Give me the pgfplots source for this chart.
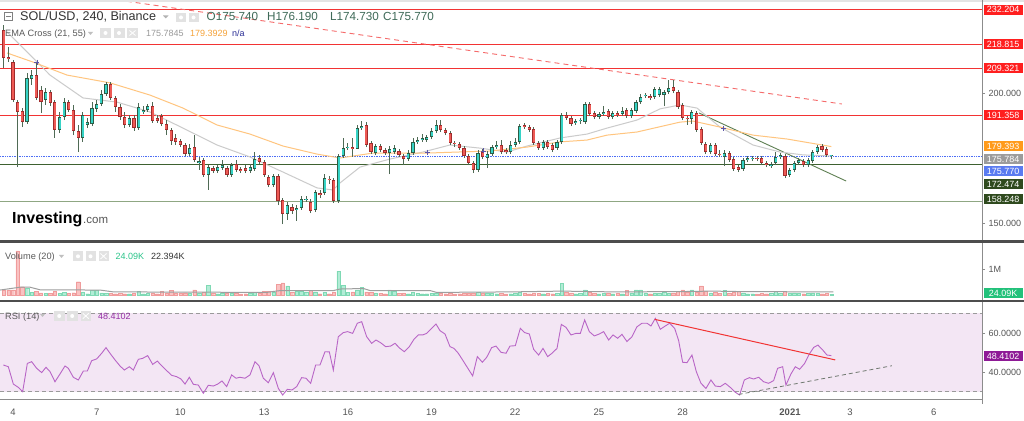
\documentclass[border=0pt]{standalone}
\usepackage{fontspec}
\setmainfont{Liberation Sans}
\usepackage{pgfplots}
\usepackage{pgfplotstable}
\pgfplotsset{compat=1.18}

\definecolor{upfill}{HTML}{36D3C6}
\definecolor{upedge}{HTML}{2E5C45}
\definecolor{dnfill}{HTML}{EE5A55}
\definecolor{dnedge}{HTML}{A02C2C}
\definecolor{wick}{HTML}{4F6A55}
\definecolor{lred}{HTML}{F23333}
\definecolor{tred}{HTML}{F56B6B}
\definecolor{lgreen}{HTML}{3E6130}
\definecolor{lgreen2}{HTML}{8FA783}
\definecolor{tgreen}{HTML}{5E7F52}
\definecolor{lblue}{HTML}{4C6EF5}
\definecolor{ema21}{HTML}{CBCBCB}
\definecolor{ema55}{HTML}{FFC57F}
\definecolor{crossc}{HTML}{5D55A8}
\definecolor{boxred}{HTML}{FF1F1F}
\definecolor{boxorange}{HTML}{FF9A1A}
\definecolor{boxgray}{HTML}{9C9C9C}
\definecolor{boxblue}{HTML}{5A7BF0}
\definecolor{boxgreen}{HTML}{2F4A1E}
\definecolor{boxvol}{HTML}{22C17A}
\definecolor{boxrsi}{HTML}{8E1A96}
\definecolor{axgray}{HTML}{8C8C8C}
\definecolor{labgray}{HTML}{555555}
\definecolor{sepgray}{HTML}{4D4D4D}
\definecolor{topgray}{HTML}{E4E4E4}
\definecolor{rsiline}{HTML}{B865C6}
\definecolor{rsiband}{HTML}{F3E6F4}
\definecolor{rsidash}{HTML}{9A9A9A}
\definecolor{rsigray}{HTML}{6E776E}
\definecolor{volup}{HTML}{B2ECD6}
\definecolor{volupedge}{HTML}{7FD9B4}
\definecolor{voldn}{HTML}{F9C2C2}
\definecolor{voldnedge}{HTML}{F09C9C}
\definecolor{volma}{HTML}{9E9E9E}
\definecolor{icongray}{HTML}{E2E2E2}
\definecolor{ohlc}{HTML}{3F6A58}
\definecolor{hdr}{HTML}{333333}
\definecolor{sub}{HTML}{5A5A5A}
\definecolor{emaval}{HTML}{9A9A9A}
\definecolor{emaor}{HTML}{F5A33A}
\definecolor{navy}{HTML}{2B2F96}
\definecolor{volgreen}{HTML}{2BC48A}
\definecolor{rsitext}{HTML}{9630A6}

\pgfplotstableread{
i o h l c v
0 224.2 226.2 209.6 213.5 0.19
1 213.8 217.7 211.9 213.1 0.20
2 211.9 212.7 196.5 197.3 0.20
3 196.5 197.3 171.5 192.7 1.70
4 193.1 194.2 186.9 188.8 0.32
5 188.8 207.7 188.1 205.8 0.26
6 205.4 208.8 203.1 206.9 0.10
7 206.9 211.9 197.3 198.1 0.13
8 201.2 202.7 192.3 196.5 0.08
9 197.3 201.9 195.4 200.4 0.06
10 200.4 201.2 195.0 196.2 0.07
11 196.5 197.3 182.7 185.8 0.13
12 185.8 192.7 184.6 190.8 0.06
13 190.8 198.1 189.6 196.5 0.10
14 196.5 197.3 192.7 193.5 0.06
15 193.5 195.4 183.8 185.4 0.09
16 185.4 187.7 177.3 182.7 0.51
17 182.7 192.7 181.2 191.5 0.12
18 187.7 190.4 186.5 188.8 0.05
19 188.1 196.5 187.3 194.2 0.19
20 193.9 197.3 192.7 195.8 0.19
21 195.8 201.2 195.0 199.6 0.08
22 199.6 204.2 198.9 203.5 0.06
23 203.5 204.2 197.3 198.1 0.07
24 198.1 198.9 192.7 194.6 0.05
25 194.6 195.8 189.6 190.8 0.06
26 190.8 192.7 186.5 187.7 0.05
27 187.7 191.5 186.9 190.4 0.05
28 190.4 191.5 185.4 186.5 0.06
29 186.5 196.2 185.8 194.6 0.13
30 192.7 195.0 191.9 193.5 0.05
31 193.5 195.8 192.7 195.0 0.06
32 195.0 196.5 188.5 189.2 0.08
33 190.4 191.5 188.5 189.2 0.05
34 191.2 191.9 187.3 188.1 0.13
35 188.1 189.6 183.8 185.8 0.07
36 185.8 186.5 180.0 181.5 0.19
37 182.7 184.2 180.0 181.2 0.06
38 181.5 182.3 179.2 180.0 0.06
39 180.0 180.8 175.8 176.5 0.09
40 176.5 180.4 175.8 178.8 0.08
41 179.2 183.8 173.5 174.2 0.20
42 173.1 175.4 170.4 173.8 0.07
43 174.2 175.0 167.7 168.5 0.10
44 168.5 172.3 162.7 171.5 0.38
45 171.2 171.9 169.2 170.0 0.06
46 170.0 172.3 169.2 171.5 0.05
47 171.2 174.2 170.4 172.3 0.06
48 171.2 171.9 167.7 168.5 0.07
49 168.5 173.1 167.7 172.3 0.08
50 172.7 174.2 169.6 170.4 0.06
51 170.8 171.5 169.2 170.0 0.04
52 171.2 172.3 169.2 170.0 0.05
53 170.0 172.7 169.2 171.5 0.06
54 170.8 177.3 170.0 174.6 0.10
55 175.0 176.2 172.7 173.5 0.07
56 173.5 174.2 167.7 168.5 0.15
57 167.7 168.5 163.8 164.6 0.15
58 164.6 168.8 163.8 168.1 0.10
59 168.1 168.8 156.9 158.5 0.41
60 158.9 159.6 149.6 153.5 0.47
61 153.5 158.1 151.2 156.9 0.35
62 156.2 157.3 153.5 154.6 0.10
63 155.0 156.9 150.8 155.8 0.15
64 155.8 160.4 155.0 159.2 0.15
65 158.9 160.4 158.1 159.2 0.10
66 158.1 159.2 153.8 154.6 0.19
67 155.0 162.7 154.2 161.9 0.12
68 161.5 162.7 159.6 160.8 0.05
69 161.5 168.8 160.8 167.3 0.10
70 166.9 168.1 165.0 166.5 0.05
71 166.5 167.3 157.7 158.5 0.12
72 158.5 176.5 157.7 175.8 0.92
73 175.8 182.7 175.0 178.8 0.38
74 178.8 180.8 178.1 179.2 0.10
75 179.2 182.7 175.4 178.5 0.12
76 178.5 187.7 178.5 186.5 0.20
77 186.5 189.2 185.8 187.3 0.30
78 187.7 188.8 179.2 180.0 0.12
79 180.8 181.5 176.5 177.3 0.10
80 176.9 180.4 176.2 179.6 0.08
81 179.6 180.4 177.3 178.1 0.06
82 178.1 178.8 176.2 176.9 0.05
83 176.9 179.6 168.8 178.5 0.20
84 177.3 180.0 176.5 178.8 0.15
85 177.7 178.5 175.4 176.2 0.06
86 175.8 176.5 172.3 174.6 0.08
87 174.6 178.1 173.8 176.9 0.05
88 176.9 182.7 176.2 181.2 0.10
89 181.2 183.1 180.4 181.9 0.06
90 181.9 184.2 181.2 182.7 0.05
91 181.9 183.8 181.2 183.1 0.05
92 183.1 186.5 182.3 185.4 0.06
93 185.4 189.6 184.6 187.7 0.08
94 187.7 189.6 185.0 185.8 0.06
95 185.8 186.5 183.8 184.6 0.05
96 184.6 185.4 180.0 180.8 0.07
97 180.8 181.5 179.2 180.4 0.04
98 180.4 181.2 178.1 178.8 0.05
99 178.8 179.6 175.0 175.8 0.06
100 175.8 176.5 172.3 173.1 0.07
101 173.1 173.8 169.2 170.4 0.08
102 170.4 178.1 169.6 176.9 0.10
103 177.3 178.5 174.6 175.4 0.06
104 175.0 177.7 171.2 176.5 0.08
105 176.5 180.0 175.8 179.2 0.06
106 179.2 181.5 178.5 180.0 0.05
107 180.0 181.9 176.5 177.3 0.06
108 178.1 178.8 176.5 177.3 0.04
109 177.3 181.5 176.5 180.0 0.05
110 180.0 182.7 179.2 181.2 0.06
111 181.2 188.1 180.4 187.3 0.10
112 187.7 188.5 186.2 186.9 0.06
113 186.9 187.7 185.0 185.8 0.05
114 186.2 186.9 180.0 180.8 0.08
115 180.8 181.5 178.1 178.8 0.06
116 178.8 181.9 178.1 181.2 0.05
117 181.2 181.9 178.5 179.2 0.06
118 180.0 180.8 177.3 178.1 0.05
119 178.8 181.9 178.1 181.2 0.06
120 181.2 192.3 180.4 191.5 0.46
121 191.5 192.7 189.6 190.4 0.10
122 190.4 191.2 187.3 188.1 0.08
123 188.5 190.0 187.7 189.2 0.05
124 189.2 190.4 188.1 189.6 0.06
125 188.8 196.5 188.1 195.8 0.20
126 195.8 196.5 191.2 191.9 0.10
127 192.3 193.1 190.0 190.8 0.06
128 190.8 192.7 190.0 191.9 0.05
129 191.9 195.0 191.2 192.7 0.06
130 193.1 193.9 190.0 190.8 0.08
131 190.8 193.1 190.0 192.3 0.05
132 192.3 193.1 190.8 191.5 0.06
133 191.9 194.6 191.2 193.1 0.05
134 193.5 194.2 190.4 191.2 0.19
135 191.2 194.2 190.4 193.5 0.08
136 193.1 197.3 192.3 196.5 0.20
137 196.5 199.6 195.8 198.5 0.20
138 198.9 200.0 198.1 199.2 0.06
139 198.9 199.6 197.3 198.1 0.05
140 198.5 202.3 197.7 201.5 0.08
141 199.2 202.3 198.5 201.5 0.06
142 199.2 201.2 195.0 200.4 0.10
143 200.4 205.0 199.6 201.9 0.07
144 202.3 205.0 200.0 200.8 0.08
145 200.4 201.2 193.9 194.6 0.13
146 195.4 196.2 189.6 190.4 0.20
147 190.4 191.2 187.7 190.0 0.12
148 190.0 193.5 188.1 192.7 0.20
149 192.3 193.1 185.0 185.8 0.12
150 186.2 186.9 180.0 180.8 0.35
151 180.4 181.2 176.5 177.3 0.15
152 177.3 180.8 176.5 180.0 0.08
153 180.0 180.8 175.8 176.5 0.10
154 176.5 178.1 175.4 176.2 0.06
155 175.4 178.1 171.9 176.9 0.17
156 176.9 177.7 173.5 174.2 0.08
157 174.6 175.4 170.0 170.8 0.10
158 171.5 172.3 169.6 170.4 0.13
159 170.8 175.0 170.0 174.2 0.08
160 174.2 175.8 173.5 175.0 0.05
161 174.6 175.8 173.8 175.0 0.05
162 175.0 175.8 173.8 174.6 0.04
163 175.0 175.8 172.3 173.1 0.06
164 173.1 173.8 171.5 172.3 0.05
165 171.9 173.5 171.2 172.7 0.06
166 173.1 177.3 172.3 175.4 0.13
167 175.4 176.9 174.6 176.2 0.06
168 175.8 176.5 167.3 168.1 0.13
169 168.5 171.2 167.7 170.4 0.07
170 170.4 173.8 169.6 173.1 0.08
171 173.1 175.0 172.3 174.2 0.06
172 173.8 174.6 171.5 172.3 0.05
173 172.3 175.0 171.5 174.2 0.06
174 173.8 178.1 173.1 177.3 0.08
175 177.3 180.0 176.5 179.2 0.07
176 179.6 180.4 177.3 178.1 0.05
177 178.5 179.2 175.4 176.2 0.06
178 175.74 176.19 174.73 175.77 0.024
}\candles

\pgfplotstableread{
t p
3.785 223.5
4.717 213.5
5.326 206.9
6.509 198.1
7.728 196.5
8.910 192.7
10.093 186.5
11.312 180.0
12.495 175.4
13.677 169.6
14.896 163.5
15.470 162.7
15.720 165.4
16.437 171.5
17.513 174.6
18.695 177.3
19.663 180.0
20.738 178.8
21.706 177.3
22.423 179.6
23.606 182.7
24.573 184.2
25.290 186.5
26.366 189.6
27.190 193.9
27.907 195.4
28.516 194.2
29.341 186.9
30.523 180.0
31.491 177.3
32.315 176.2
33.333 175.78
}\emaA

\pgfplotstableread{
t p
3.785 215.4
4.717 211.9
5.935 206.9
7.477 203.9
8.910 199.2
10.093 194.2
11.312 187.7
12.495 184.2
13.677 179.6
14.896 176.5
15.720 175.0
16.903 176.9
18.839 176.9
21.097 177.7
22.423 179.2
23.606 181.2
24.573 181.9
25.290 183.8
26.366 185.0
27.907 188.8
28.373 189.2
29.341 186.9
30.523 183.8
31.742 182.3
33.333 179.39
}\emaB

\pgfplotstableread{
t v
3.534 0.19
4.25 0.30
4.61 0.30
4.97 0.20
7.12 0.19
7.60 0.12
13.09 0.10
13.57 0.17
15.48 0.17
15.72 0.23
16.56 0.25
16.80 0.17
18.95 0.17
19.18 0.10
21.90 0.12
23.68 0.15
25.50 0.12
27.86 0.13
29.05 0.15
30.20 0.13
33.40 0.12
}\volma

\pgfplotstableread{
t r
3.654 43.6
3.833 42.7
4.012 33.8
4.191 32.1
4.346 29.9
4.514 44.4
4.669 45.3
4.848 41.9
5.027 39.7
5.183 42.4
5.326 40.2
5.505 35.0
5.685 39.0
5.864 43.1
5.983 41.9
6.162 37.3
6.342 35.9
6.521 40.5
6.664 40.5
6.820 45.8
6.999 46.7
7.178 49.6
7.333 52.5
7.477 49.6
7.656 46.2
7.835 43.1
7.990 41.0
8.170 42.7
8.313 41.0
8.492 46.5
8.647 47.0
8.827 48.4
9.006 43.9
9.173 45.6
9.328 43.2
9.508 40.7
9.687 38.3
9.866 37.6
10.021 36.4
10.165 33.8
10.320 37.3
10.463 33.7
10.642 33.3
10.822 29.1
11.001 33.2
11.180 32.8
11.335 33.8
11.491 35.4
11.658 32.5
11.837 38.5
11.993 36.8
12.136 37.3
12.315 36.8
12.494 38.5
12.674 45.3
12.817 43.2
12.972 36.8
13.151 34.5
13.331 39.7
13.510 31.6
13.665 28.2
13.832 31.1
14.000 30.8
14.167 32.5
14.346 37.1
14.501 36.8
14.669 34.2
14.848 43.6
15.003 43.6
15.182 50.4
15.338 50.3
15.481 41.0
15.660 58.1
15.839 60.2
15.995 60.7
16.174 59.8
16.341 65.0
16.497 65.8
16.676 58.1
16.855 54.7
17.010 56.4
17.178 55.0
17.357 53.0
17.536 53.3
17.691 54.7
17.870 52.1
18.026 50.4
18.205 53.0
18.372 56.8
18.528 59.0
18.683 59.0
18.826 59.8
19.005 62.4
19.161 64.6
19.304 61.2
19.483 59.5
19.663 53.0
19.806 52.1
19.961 49.6
20.140 45.6
20.320 41.5
20.475 38.0
20.642 47.9
20.822 45.0
20.977 47.5
21.156 52.5
21.312 53.3
21.491 50.1
21.670 49.6
21.813 53.3
22.004 53.5
22.183 62.4
22.339 60.2
22.506 59.5
22.661 51.6
22.840 48.7
22.996 52.1
23.163 47.9
23.318 49.6
23.498 52.1
23.653 64.4
23.820 62.9
23.999 59.0
24.178 59.8
24.334 59.8
24.489 66.7
24.656 60.7
24.836 58.5
25.015 59.5
25.170 60.7
25.349 56.4
25.505 59.0
25.672 57.3
25.827 59.3
26.006 55.6
26.185 58.1
26.365 63.2
26.544 65.0
26.723 65.0
26.866 63.6
27.022 67.5
27.201 61.9
27.380 63.6
27.535 65.0
27.715 62.4
27.858 56.1
28.001 45.0
28.156 44.8
28.335 48.7
28.491 40.2
28.658 34.2
28.837 31.6
29.016 35.9
29.172 32.8
29.351 32.5
29.530 34.2
29.709 32.1
29.889 29.6
30.044 28.2
30.211 35.9
30.390 37.1
30.546 36.4
30.725 37.3
30.904 35.0
31.083 34.2
31.262 35.6
31.406 41.9
31.585 42.7
31.704 33.3
31.883 39.0
32.039 42.7
32.194 41.4
32.373 44.4
32.542 49.2
32.697 52.6
32.852 53.8
33.020 51.3
33.175 48.7
33.331 48.41
}\rsi

\pgfplotsset{
  panel/.style={scale only axis, width=982pt, xmin=3.534, xmax=38.731, anchor=south west,
    axis line style={draw=none}, tick align=outside, major tick length=3pt,
    tick style={draw=axgray, line width=0.6pt},
    ytick pos=right, yticklabel pos=right,
    yticklabel style={font=\fontsize{9}{10}\selectfont, text=labgray},
    xtick=\empty},
}
\tikzset{lbl/.style={fill=#1, text=white, anchor=west, inner sep=0pt, minimum height=10pt,
  minimum width=39pt, font=\fontsize{9}{10}\selectfont}}

\begin{document}
\begin{tikzpicture}
\useasboundingbox (0pt,0pt) rectangle (1024pt,420pt);
\fill[white] (0pt,0pt) rectangle (1024pt,420pt);

% ---------------- price panel
\begin{axis}[panel, at={(0pt,179.5pt)}, height=237.5pt, ymin=143.27, ymax=234.62,
  ytick={150,200}, yticklabels={150.000,200.000}]
\addplot[lred, line width=0.9pt] coordinates {(3.534,232.204) (38.731,232.204)};
\addplot[lred, line width=0.9pt] coordinates {(3.534,218.815) (38.731,218.815)};
\addplot[lred, line width=0.9pt] coordinates {(3.534,209.321) (38.731,209.321)};
\addplot[lred, line width=0.9pt] coordinates {(3.534,191.358) (38.731,191.358)};
\addplot[lgreen, line width=0.9pt] coordinates {(3.534,172.474) (38.731,172.474)};
\addplot[lgreen2, line width=1.3pt] coordinates {(3.534,158.248) (38.731,158.248)};
\addplot[lblue, line width=0.7pt, densely dotted] coordinates {(3.534,175.770) (38.731,175.770)};
\addplot[tred, line width=0.9pt, dash pattern=on 5pt off 4pt] coordinates {(7.76,235.77) (33.71,195.77)};
\addplot[tgreen, line width=0.9pt] coordinates {(28.59,192.31) (33.86,166.15)};
\addplot[ema21, line width=1pt] table[x=t, y=p]{\emaA};
\addplot[ema55, line width=1pt] table[x=t, y=p]{\emaB};
% wicks
\addplot[wick, line width=0.8pt, mark=none, quiver={u=0, v=\thisrow{h}-\thisrow{l}}]
  table[x expr=3.6667+\thisrow{i}/6, y=l]{\candles};
% up bodies
\addplot[upedge, line width=3.2pt, mark=none, restrict expr to domain={\thisrow{c}-\thisrow{o}}{0:1000},
  quiver={u=0, v={max(\thisrow{c}-\thisrow{o},0.5)}}]
  table[x expr=3.6667+\thisrow{i}/6, y=o]{\candles};
\addplot[upfill, line width=2.0pt, mark=none, restrict expr to domain={\thisrow{c}-\thisrow{o}}{0:1000},
  quiver={u=0, v={max(\thisrow{c}-\thisrow{o}-0.5,0.1)}}]
  table[x expr=3.6667+\thisrow{i}/6, y expr=\thisrow{o}+0.25]{\candles};
% down bodies
\addplot[dnedge, line width=3.2pt, mark=none, restrict expr to domain={\thisrow{c}-\thisrow{o}}{-1000:-0.00001},
  quiver={u=0, v={max(\thisrow{o}-\thisrow{c},0.5)}}]
  table[x expr=3.6667+\thisrow{i}/6, y=c]{\candles};
\addplot[dnfill, line width=2.0pt, mark=none, restrict expr to domain={\thisrow{c}-\thisrow{o}}{-1000:-0.00001},
  quiver={u=0, v={max(\thisrow{o}-\thisrow{c}-0.5,0.1)}}]
  table[x expr=3.6667+\thisrow{i}/6, y expr=\thisrow{c}+0.25]{\candles};
\addplot[only marks, mark=+, mark size=2.5pt, crossc, line width=0.9pt]
  coordinates {(4.86,211.9) (18.84,177.3) (20.85,177.7) (29.48,186.5)};
\end{axis}

% ---------------- volume panel
\begin{axis}[panel, at={(0pt,120pt)}, height=57pt, ymin=-0.192, ymax=2.0,
  ytick={1}, yticklabels={1M}]
\addplot[ybar, bar width=3.4pt, bar shift=0pt, fill=voldn, draw=voldnedge, line width=0.3pt,
  restrict expr to domain={\thisrow{c}-\thisrow{o}}{-1000:-0.00001}]
  table[x expr=3.6667+\thisrow{i}/6, y=v]{\candles};
\addplot[ybar, bar width=3.4pt, bar shift=0pt, fill=volup, draw=volupedge, line width=0.3pt,
  restrict expr to domain={\thisrow{c}-\thisrow{o}}{0:1000}]
  table[x expr=3.6667+\thisrow{i}/6, y=v]{\candles};
\addplot[volma, line width=1pt] table[x=t, y=v]{\volma};
\end{axis}

% ---------------- RSI panel
\begin{axis}[panel, at={(0pt,20.5pt)}, height=97pt, ymin=25.9, ymax=75.64,
  ytick={40,60}, yticklabels={40.0000,60.0000},
  xtick={4,7,10,13,16,19,22,25,28,31.85,34,37},
  xticklabels={4,7,10,13,16,19,22,25,28,\textbf{2021},3,6},
  xtick style={draw=none},
  xticklabel style={font=\fontsize{9.5}{10}\selectfont, text=labgray, yshift=-3pt}]
\fill[rsiband] (axis cs:3.534,30) rectangle (axis cs:38.731,70);
\addplot[rsidash, line width=0.8pt, dash pattern=on 4pt off 3pt] coordinates {(3.534,70) (38.731,70)};
\addplot[rsidash, line width=0.8pt, dash pattern=on 4pt off 3pt] coordinates {(3.534,30) (38.731,30)};
\addplot[rsiline, line width=0.9pt] table[x=t, y=r]{\rsi};
\addplot[lred, line width=1pt] coordinates {(27.0,67.0) (33.47,46.2)};
\addplot[rsigray, line width=0.8pt, dash pattern=on 4pt off 3pt] coordinates {(30.01,28.5) (35.50,43.2)};
\end{axis}

\begin{scope}[x=1pt,y=1pt]
% ---------------- frame lines
\fill[topgray] (0,418) rectangle (1024,420);
\draw[axgray, line width=0.8pt] (982.5,420) -- (982.5,16);
\draw[axgray, line width=0.8pt] (0,20.5) -- (982.5,20.5);
\fill[sepgray] (0,177) rectangle (1024,179.5);
\fill[sepgray] (0,117.5) rectangle (1024,120);

% ---------------- right labels
\node[lbl=boxred] at (983.5,410.4) {232.204};
\node[lbl=boxred] at (983.5,376) {218.815};
\node[lbl=boxred] at (983.5,351.7) {209.321};
\node[lbl=boxred] at (983.5,305) {191.358};
\node[lbl=boxorange] at (983.5,274) {179.393};
\node[lbl=boxgray] at (983.5,261) {175.784};
\node[lbl=boxblue] at (983.5,249) {175.770};
\node[lbl=boxgreen] at (983.5,236) {172.474};
\node[lbl=boxgreen] at (983.5,221) {158.248};
\node[lbl=boxvol] at (983.5,127) {24.09K};
\node[lbl=boxrsi] at (983.5,64) {48.4102};

% ---------------- header line 1
\draw[gray, line width=0.6pt] (4.3,399.3) rectangle (12.3,407.3);
\draw[gray, line width=0.6pt] (6,403.3) -- (10.6,403.3);
\node[anchor=base west, inner sep=0pt, text=hdr, font=\fontsize{12.6}{14}\selectfont] at (20,399) {SOL/USD, 240, Binance};
\fill[gray!60] (163,404.5) -- (168.5,404.5) -- (165.75,401.5) -- cycle;
\fill[icongray] (176,398) rectangle (186,407);
\fill[icongray] (188.5,398) rectangle (198.5,407);
\fill[white] (181,402.5) circle (2);
\fill[white] (193.5,402.5) circle (2);
\node[anchor=base west, inner sep=0pt, text=ohlc, font=\fontsize{11.7}{14}\selectfont] at (206.5,399) {O175.740};
\node[anchor=base west, inner sep=0pt, text=ohlc, font=\fontsize{11.7}{14}\selectfont] at (267,399) {H176.190};
\node[anchor=base west, inner sep=0pt, text=ohlc, font=\fontsize{11.7}{14}\selectfont] at (330,399) {L174.730};
\node[anchor=base west, inner sep=0pt, text=ohlc, font=\fontsize{11.7}{14}\selectfont] at (383,399) {C175.770};

% ---------------- header line 2
\node[anchor=base west, inner sep=0pt, text=sub, font=\fontsize{9.2}{11}\selectfont] at (5,383.8) {EMA Cross (21, 55)};
\fill[gray!50] (88,388) -- (93,388) -- (90.5,385) -- cycle;
\fill[icongray] (100,382) rectangle (111,392);
\fill[icongray] (113.5,382) rectangle (124.5,392);
\fill[icongray] (127,382) rectangle (138,392);
\fill[white] (105.5,387) circle (2);
\fill[white] (119,387) circle (2);
\draw[white, line width=0.8pt] (129.5,384.5) -- (135.5,389.5) (129.5,389.5) -- (135.5,384.5);
\node[anchor=base west, inner sep=0pt, text=emaval, font=\fontsize{9}{11}\selectfont] at (146,383.8) {175.7845};
\node[anchor=base west, inner sep=0pt, text=emaor, font=\fontsize{9}{11}\selectfont] at (190,383.8) {179.3929};
\node[anchor=base west, inner sep=0pt, text=navy, font=\fontsize{9}{11}\selectfont] at (232,383.8) {n/a};

% ---------------- Investing.com
\node[anchor=base west, inner sep=0pt, font=\fontsize{16}{18}\bfseries\selectfont] at (12,196.8) {Investing};
\node[anchor=base west, inner sep=0pt, text=labgray, font=\fontsize{11.5}{13}\selectfont] at (83,196.8) {.com};

% ---------------- volume header
\node[anchor=base west, inner sep=0pt, text=sub, font=\fontsize{9.2}{11}\selectfont] at (5,160.7) {Volume (20)};
\fill[gray!50] (59,165) -- (64,165) -- (61.5,162) -- cycle;
\fill[icongray] (73,159) rectangle (83,168.5);
\fill[icongray] (85.5,159) rectangle (95.5,168.5);
\fill[icongray] (98.5,159) rectangle (108.5,168.5);
\fill[white] (78,163.7) circle (2);
\fill[white] (90.5,163.7) circle (2);
\draw[white, line width=0.8pt] (100.5,161) -- (106.5,166.5) (100.5,166.5) -- (106.5,161);
\node[anchor=base west, inner sep=0pt, text=volgreen, font=\fontsize{9}{11}\selectfont] at (115.5,160.7) {24.09K};
\node[anchor=base west, inner sep=0pt, text=hdr, font=\fontsize{9}{11}\selectfont] at (151,160.7) {22.394K};

% ---------------- RSI header
\node[anchor=base west, inner sep=0pt, text=sub, font=\fontsize{9.2}{11}\selectfont] at (5,100.7) {RSI (14)};
\fill[gray!50] (40,106) -- (45,106) -- (42.5,103) -- cycle;
\fill[icongray] (54,99) rectangle (64.5,109);
\fill[icongray] (67,99) rectangle (77.5,109);
\fill[icongray] (80.5,99) rectangle (91,109);
\fill[white] (59.2,104) circle (2);
\fill[white] (72.2,104) circle (2);
\draw[white, line width=0.8pt] (82.8,101.3) -- (88.7,106.7) (82.8,106.7) -- (88.7,101.3);
\node[anchor=base west, inner sep=0pt, text=rsitext, font=\fontsize{9}{11}\selectfont] at (98,100.7) {48.4102};
\end{scope}
\end{tikzpicture}
\end{document}
